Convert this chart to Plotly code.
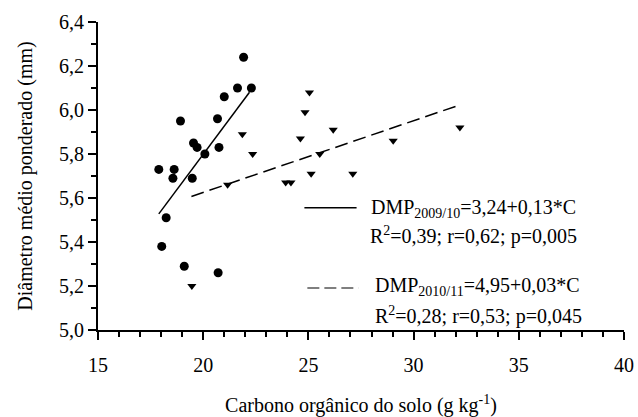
import plotly.graph_objects as go

# Safra 2009/10 (circles)
c0910_x = [21.92, 21.63, 22.29, 21.00, 18.92, 20.68, 19.54, 19.71, 20.75,
           20.08, 17.89, 18.62, 18.56, 19.48, 18.24, 18.03, 19.10, 20.71]
c0910_y = [6.24, 6.10, 6.10, 6.06, 5.95, 5.96, 5.85, 5.83, 5.83,
           5.80, 5.73, 5.73, 5.69, 5.69, 5.51, 5.38, 5.29, 5.26]

# Safra 2010/11 (triangles)
c1011_x = [25.05, 24.84, 26.18, 21.86, 24.62, 22.35, 25.54, 21.16, 23.92,
           24.17, 25.13, 27.11, 19.46, 29.03, 32.20]
c1011_y = [6.08, 5.99, 5.91, 5.89, 5.87, 5.80, 5.80, 5.66, 5.67,
           5.67, 5.71, 5.71, 5.20, 5.86, 5.92]

# Fitted lines (end points)
fit0910_x = [17.89, 22.20]
fit0910_y = [5.528, 6.081]
fit1011_x = [19.44, 32.20]
fit1011_y = [5.607, 6.023]

legend_lines = [
    "DMP<sub>2009/10</sub>=3,24+0,13*C",
    "R<sup>2</sup>=0,39; r=0,62; p=0,005",
    "DMP<sub>2010/11</sub>=4,95+0,03*C",
    "R<sup>2</sup>=0,28; r=0,53; p=0,045",
]

FONT = "Liberation Serif"

fig = go.Figure()
fig.add_trace(go.Scatter(x=c0910_x, y=c0910_y, mode="markers",
                         marker=dict(symbol="circle", size=9, color="black"),
                         showlegend=False))
fig.add_trace(go.Scatter(x=c1011_x, y=c1011_y, mode="markers",
                         marker=dict(symbol="triangle-down", size=8, color="black"),
                         showlegend=False))
fig.add_trace(go.Scatter(x=fit0910_x, y=fit0910_y, mode="lines",
                         line=dict(color="black", width=1.5), showlegend=False))
fig.add_trace(go.Scatter(x=fit1011_x, y=fit1011_y, mode="lines",
                         line=dict(color="black", width=1.5, dash="13px,6px"),
                         showlegend=False))

# legend samples
fig.add_shape(type="line", xref="x", yref="y", x0=24.81, x1=27.29, y0=5.556, y1=5.556,
              line=dict(color="black", width=1.5))
fig.add_shape(type="line", xref="x", yref="y", x0=24.95, x1=27.38, y0=5.191, y1=5.191,
              line=dict(color="black", width=1.2, dash="12px,5px"))

ann_pos = [(27.86, 5.551), (27.81, 5.428), (28.05, 5.196), (28.05, 5.064)]
for txt, (ax, ay) in zip(legend_lines, ann_pos):
    fig.add_annotation(x=ax, y=ay, xref="x", yref="y", text=txt, showarrow=False,
                       xanchor="left", yanchor="middle",
                       font=dict(family=FONT, size=20, color="black"))

axis_common = dict(showline=True, linecolor="black", linewidth=2,
                   ticks="outside", tickcolor="black", tickwidth=2, ticklen=8,
                   showgrid=False, zeroline=False, automargin=False,
                   tickfont=dict(family=FONT, size=20, color="black"))

fig.update_xaxes(range=[15, 40], tick0=15, dtick=5,
                 minor=dict(dtick=1, ticks="outside", ticklen=5, tickwidth=1.5, tickcolor="black"),
                 title=dict(text="Carbono orgânico do solo (g kg<sup>-1</sup>)",
                            font=dict(family=FONT, size=20, color="black"), standoff=31),
                 ticklabelstandoff=8,
                 **axis_common)
fig.update_yaxes(range=[5.0, 6.4], tick0=5.0, dtick=0.2, tickformat=".1f",
                 minor=dict(dtick=0.1, ticks="outside", ticklen=5, tickwidth=1.5, tickcolor="black"),
                 title=dict(text="Diâmetro médio ponderado (mm)",
                            font=dict(family=FONT, size=20, color="black"), standoff=21),
                 **axis_common)

fig.update_layout(width=638, height=417, separators=",.",
                  margin=dict(l=98, r=14, t=22, b=87),
                  plot_bgcolor="white", paper_bgcolor="white",
                  font=dict(family=FONT, size=20, color="black"))

fig.write_html("out.html")
